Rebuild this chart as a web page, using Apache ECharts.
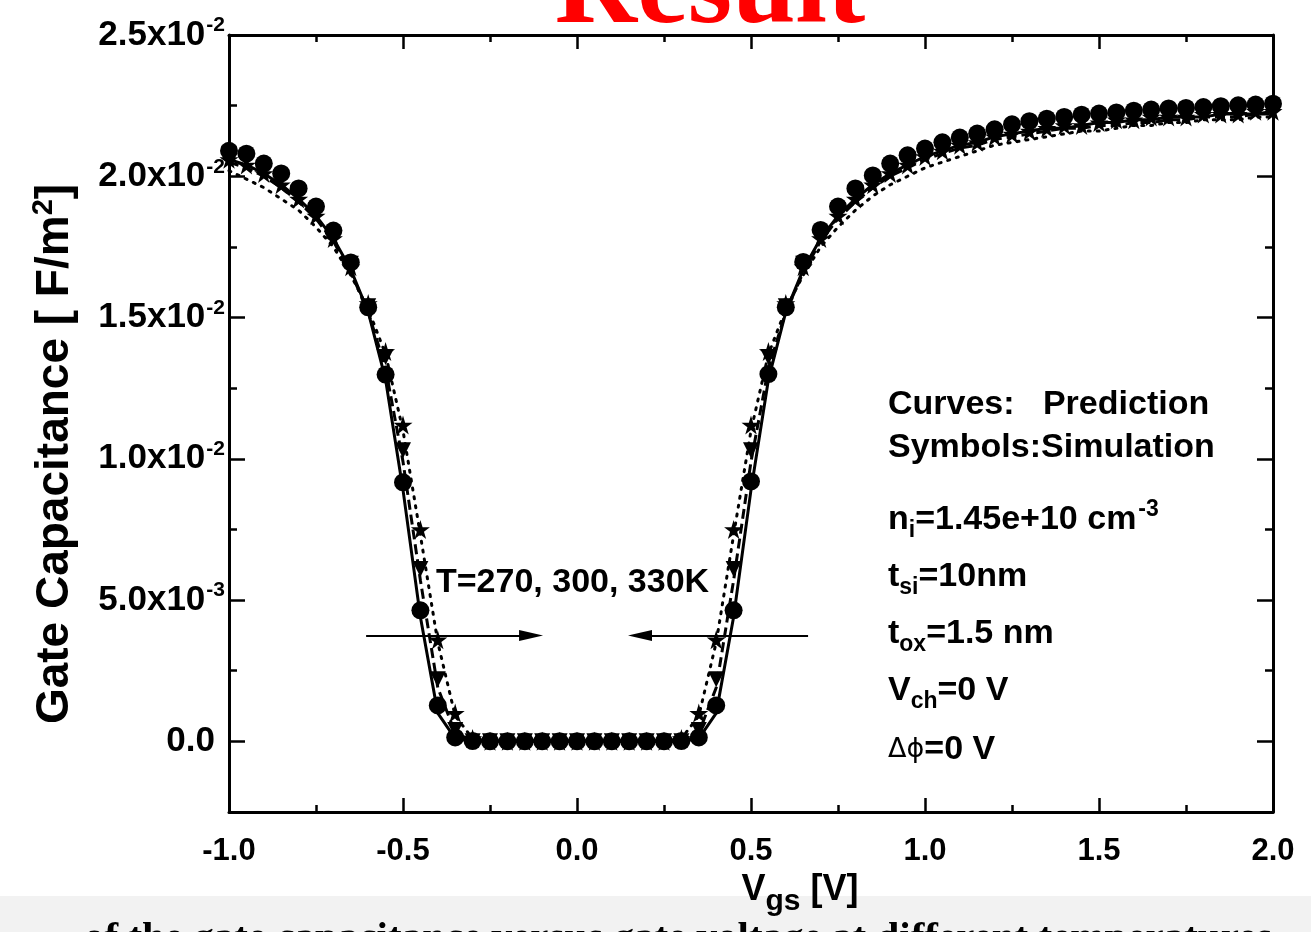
<!DOCTYPE html>
<html>
<head>
<meta charset="utf-8">
<script src="https://cdn.jsdelivr.net/npm/echarts@6/dist/echarts.min.js"></script>
<style>
html,body{margin:0;padding:0;background:#fff;overflow:hidden;}
#chart{width:1311px;height:932px;}
</style>
</head>
<body>
<div id="chart"></div>
<script>
// ---- data ----
const vgs = [-1.0,-0.95,-0.9,-0.85,-0.8,-0.75,-0.7,-0.65,-0.6,-0.55,-0.5,-0.45,-0.4,-0.35,-0.3,-0.25,-0.2,-0.15,-0.1,-0.05,
  0.0,0.05,0.1,0.15,0.2,0.25,0.3,0.35,0.4,0.45,0.5,0.55,0.6,0.65,0.7,0.75,0.8,0.85,0.9,0.95,
  1.0,1.05,1.1,1.15,1.2,1.25,1.3,1.35,1.4,1.45,1.5,1.55,1.6,1.65,1.7,1.75,1.8,1.85,1.9,1.95,2.0];

// Curves: prediction
const pred270 = [0.0206,0.0204,0.0201,0.0197,0.0192,0.0186,0.0178,0.0167,0.0152,0.0128,0.0089,0.0044,0.0010,0.0001,0,0,0,0,0,0,
  0,0,0,0,0,0,0,0.0001,0.0010,0.0044,0.0089,0.0128,0.0152,0.0167,0.0178,0.0186,0.0192,0.0197,0.0201,0.0204,
  0.0207,0.0209,0.0211,0.0212,0.0214,0.0215,0.0216,0.0217,0.0217,0.0218,0.0219,0.0219,0.0220,0.0220,0.0221,0.0221,0.0221,0.0222,0.0222,0.0222,0.0223];
const pred300 = [0.0205,0.0203,0.0200,0.0196,0.0191,0.0185,0.0177,0.0166,0.0152,0.0132,0.0099,0.0057,0.0019,0.0003,0.00002,0,0,0,0,0,
  0,0,0,0,0,0,0.00002,0.0003,0.0019,0.0057,0.0099,0.0132,0.0152,0.0166,0.0177,0.0185,0.0191,0.0196,0.0200,0.0203,
  0.0206,0.0208,0.0210,0.0211,0.0213,0.0214,0.0215,0.0216,0.0217,0.0217,0.0218,0.0218,0.0219,0.0219,0.0220,0.0220,0.0221,0.0221,0.0221,0.0222,0.0222];
const pred330 = [0.0202,0.0199,0.0196,0.0192,0.0188,0.0182,0.0175,0.0165,0.0153,0.0137,0.0110,0.0073,0.0035,0.0009,0.0001,0,0,0,0,0,
  0,0,0,0,0,0,0.0001,0.0009,0.0035,0.0073,0.0110,0.0137,0.0153,0.0165,0.0175,0.0182,0.0188,0.0193,0.0197,0.0200,
  0.0203,0.0205,0.0207,0.0209,0.0211,0.0212,0.0213,0.0214,0.0215,0.0216,0.0216,0.0217,0.0218,0.0218,0.0219,0.0219,0.0220,0.0220,0.0220,0.0221,0.0221];

// Symbols: simulation
const sim270 = [0.0209,0.0208,0.02045,0.0201,0.01957,0.01893,0.01808,0.01695,0.01536,0.01298,0.00917,0.00464,0.00127,0.00014,0.00001,0,0,0,0,0,
  0,0,0,0,0,0,0.00001,0.00014,0.00127,0.00464,0.0092,0.013,0.01536,0.01697,0.0181,0.01893,0.01957,0.02003,0.02045,0.02074,
  0.02098,0.0212,0.02137,0.02151,0.02166,0.02184,0.02195,0.02204,0.0221,0.02218,0.02222,0.02226,0.02232,0.02236,0.0224,0.02242,0.02245,0.02248,0.02251,0.02254,0.02257];
const sim300 = [0.0208,0.0206,0.0203,0.0199,0.0194,0.0188,0.0179,0.0169,0.0154,0.0136,0.0103,0.0061,0.0022,0.0004,0,0,0,0,0,0,
  0,0,0,0,0,0,0,0.0004,0.0022,0.0061,0.0103,0.0136,0.0154,0.0169,0.0179,0.0188,0.0194,0.0199,0.0203,0.0206,
  0.0208,0.0210,0.0212,0.0213,0.0215,0.0216,0.0217,0.0218,0.0219,0.0219,0.0220,0.0221,0.0221,0.0222,0.0222,0.0222,0.0223,0.0223,0.0223,0.0224,0.0224];
const sim330 = [0.0206,0.0204,0.0201,0.0197,0.0192,0.0186,0.0178,0.0168,0.0155,0.0138,0.0112,0.0075,0.0036,0.0010,0.0001,0,0,0,0,0,
  0,0,0,0,0,0,0.0001,0.0010,0.0036,0.0075,0.0112,0.0138,0.0155,0.0168,0.0178,0.0186,0.0192,0.0197,0.0201,0.0204,
  0.0207,0.0209,0.0211,0.0212,0.0214,0.0215,0.0216,0.0217,0.0218,0.0218,0.0219,0.0220,0.0220,0.0221,0.0221,0.0221,0.0222,0.0222,0.0222,0.0223,0.0223];

// axis ticks
const xTickValues = [-1.0,-0.5,0.0,0.5,1.0,1.5,2.0];
const xTickLabels = ['-1.0','-0.5','0.0','0.5','1.0','1.5','2.0'];
const yTickValues = [0,0.005,0.01,0.015,0.02,0.025];
const yTickMant = ['0.0','5.0x10','1.0x10','1.5x10','2.0x10','2.5x10'];
const yTickExp = ['','-3','-2','-2','-2','-2'];
const yMinorValues = [-0.0025,0.0025,0.0075,0.0125,0.0175,0.0225];

// annotation arrows (data coords)
const arrowLeft = [[-0.606,0.00375],[-0.132,0.00375]];
const arrowRight = [[0.664,0.00375],[0.181,0.00375]];

// ---- chart ----
const FONT = 'Liberation Sans, Arial, sans-serif';
const SERIF = 'Liberation Serif, Times New Roman, serif';
const chart = echarts.init(document.getElementById('chart'));
const pairs = arr => vgs.map((x,i)=>[x,arr[i]]);
const starPath = 'path://M50,0 L61,35 L98,35 L68,57 L79,91 L50,70 L21,91 L32,57 L2,35 L39,35 Z';
const arrowHead = 'path://M5,0 L10,22 L0,22 Z';

function yLabel(v){
  const i = yTickValues.findIndex(t=>Math.abs(t-v)<1e-9);
  if(i<0) return '';
  return yTickExp[i] ? '{m|'+yTickMant[i]+'}{s|'+yTickExp[i]+'}' : '{z|'+yTickMant[i]+'}';
}
function xLabel(v){
  const i = xTickValues.findIndex(t=>Math.abs(t-v)<1e-9);
  return i<0 ? '' : xTickLabels[i];
}

const axisLineStyle = {color:'#000', width:3};
const tickStyle = {width:2.5, color:'#000'};
const yBase = {type:'value', min:-0.0025, max:0.025, splitLine:{show:false}};
const xBase = {type:'value', min:-1, max:2, interval:0.5, splitLine:{show:false}};

const option = {
  backgroundColor:'#ffffff',
  animation:false,
  grid:{left:229, right:38, top:35, bottom:120, containLabel:false, outerBoundsMode:'none'},
  xAxis:[
    Object.assign({}, xBase, {
      position:'bottom',
      axisLine:{show:true, onZero:false, lineStyle:axisLineStyle},
      axisTick:{show:true, inside:true, length:14, lineStyle:tickStyle},
      minorTick:{show:true, splitNumber:2, length:7, lineStyle:tickStyle},
      axisLabel:{show:true, margin:24, color:'#000', fontFamily:FONT, fontWeight:'bold', fontSize:31, formatter:xLabel, showMinLabel:true, showMaxLabel:true},
      name:'{m|V}{s|gs}{m| [V]}', nameLocation:'middle', nameGap:39,
      nameTextStyle:{padding:[0,0,0,98], rich:{
        m:{fontFamily:FONT, fontWeight:'bold', fontSize:36, color:'#000', lineHeight:44},
        s:{fontFamily:FONT, fontWeight:'bold', fontSize:30, color:'#000', verticalAlign:'bottom', padding:[24,0,0,0]}
      }}
    }),
    Object.assign({}, xBase, {
      position:'top',
      axisLine:{show:true, onZero:false, lineStyle:axisLineStyle},
      axisTick:{show:true, inside:true, length:14, lineStyle:tickStyle},
      minorTick:{show:true, splitNumber:2, length:7, lineStyle:tickStyle},
      axisLabel:{show:false}
    })
  ],
  yAxis:[
    Object.assign({}, yBase, {
      position:'left',
      axisLine:{show:true, onZero:false, lineStyle:axisLineStyle},
      axisTick:{show:true, inside:true, length:16, customValues:yTickValues, lineStyle:tickStyle},
      axisLabel:{show:true, margin:4, customValues:yTickValues, formatter:yLabel, rich:{
        m:{fontFamily:FONT, fontWeight:'bold', fontSize:35, color:'#000', lineHeight:40},
        z:{fontFamily:FONT, fontWeight:'bold', fontSize:35, color:'#000', lineHeight:40, padding:[0,10,0,0]},
        s:{fontFamily:FONT, fontWeight:'bold', fontSize:21, color:'#000', verticalAlign:'top', lineHeight:40, padding:[0,0,14,1]}
      }}
    }),
    Object.assign({}, yBase, {
      position:'left',
      axisLine:{show:false, onZero:false},
      axisTick:{show:true, inside:true, length:8, customValues:yMinorValues, lineStyle:tickStyle},
      axisLabel:{show:false}
    }),
    Object.assign({}, yBase, {
      position:'right',
      axisLine:{show:true, onZero:false, lineStyle:axisLineStyle},
      axisTick:{show:true, inside:true, length:16, customValues:yTickValues, lineStyle:tickStyle},
      axisLabel:{show:false}
    }),
    Object.assign({}, yBase, {
      position:'right',
      axisLine:{show:false, onZero:false},
      axisTick:{show:true, inside:true, length:8, customValues:yMinorValues, lineStyle:tickStyle},
      axisLabel:{show:false}
    })
  ],
  series:[
    {name:'Prediction 330K', type:'line', data:pairs(pred330), showSymbol:false, lineStyle:{color:'#000', width:3, type:[2,7], cap:'round'}, z:3},
    {name:'Prediction 300K', type:'line', data:pairs(pred300), showSymbol:false, lineStyle:{color:'#000', width:3, type:[10,5]}, z:3},
    {name:'Prediction 270K', type:'line', data:pairs(pred270), showSymbol:false, lineStyle:{color:'#000', width:3, type:'solid'}, z:3,
      markLine:{silent:true, symbol:['none', arrowHead], symbolSize:[11,24], label:{show:false},
        lineStyle:{color:'#000', width:2, type:'solid'},
        data:[
          [{coord:arrowLeft[0]},{coord:arrowLeft[1]}],
          [{coord:arrowRight[0]},{coord:arrowRight[1]}]
        ]}},
    {name:'Simulation 330K', type:'scatter', data:pairs(sim330), symbol:starPath, symbolSize:19, itemStyle:{color:'#000', opacity:1}, z:4},
    {name:'Simulation 300K', type:'scatter', data:pairs(sim300), symbol:'triangle', symbolRotate:180, symbolSize:16, itemStyle:{color:'#000', opacity:1}, z:5},
    {name:'Simulation 270K', type:'scatter', data:pairs(sim270), symbol:'circle', symbolSize:18, itemStyle:{color:'#000', opacity:1}, z:6}
  ],
  graphic:[
    {type:'rect', left:0, top:896, shape:{width:1311, height:36}, style:{fill:'#f2f2f2'}, z:-10, silent:true},
    {type:'text', left:84, top:919, z:-5, style:{text:'of the gate capacitance versus gate voltage at different temperatures', fill:'#000', font:'bold 41px '+SERIF}},
    {type:'text', x:710, y:50, style:{text:'Result', fill:'#ff0000', font:'bold 114px '+SERIF, textAlign:'center', textVerticalAlign:'bottom', textShadowColor:'#000', textShadowBlur:0, textShadowOffsetX:4, textShadowOffsetY:4}},
    {type:'text', x:55, y:454, rotation:Math.PI/2, style:{
      text:'{m|Gate Capacitance [ F/m}{s|2}{m|]}', textAlign:'center', textVerticalAlign:'middle',
      rich:{m:{fontFamily:FONT, fontWeight:'bold', fontSize:46, fill:'#000', lineHeight:52},
            s:{fontFamily:FONT, fontWeight:'bold', fontSize:29, fill:'#000', verticalAlign:'top', lineHeight:52, padding:[0,0,20,0]}}
    }},
    {type:'text', x:436, y:583, style:{text:'T=270, 300, 330K', fill:'#000', font:'bold 34px '+FONT, textVerticalAlign:'middle'}},
    {type:'text', x:888, y:405, style:{text:'Curves:   Prediction', fill:'#000', font:'bold 34px '+FONT, textVerticalAlign:'middle'}},
    {type:'text', x:888, y:448, style:{text:'Symbols:Simulation', fill:'#000', font:'bold 34px '+FONT, textVerticalAlign:'middle'}},
    {type:'text', x:888, y:520, style:{text:'{m|n}{b|i}{m|=1.45e+10 cm}{t|-3}', textVerticalAlign:'middle', rich:{
      m:{fontFamily:FONT, fontWeight:'bold', fontSize:34, fill:'#000', lineHeight:44},
      b:{fontFamily:FONT, fontWeight:'bold', fontSize:23, fill:'#000', verticalAlign:'bottom', lineHeight:44, padding:[14,0,0,0]},
      t:{fontFamily:FONT, fontWeight:'bold', fontSize:23, fill:'#000', verticalAlign:'top', lineHeight:44, padding:[0,0,14,2]}}}},
    {type:'text', x:888, y:577, style:{text:'{m|t}{b|si}{m|=10nm}', textVerticalAlign:'middle', rich:{
      m:{fontFamily:FONT, fontWeight:'bold', fontSize:34, fill:'#000', lineHeight:44},
      b:{fontFamily:FONT, fontWeight:'bold', fontSize:23, fill:'#000', verticalAlign:'bottom', lineHeight:44, padding:[14,0,0,0]}}}},
    {type:'text', x:888, y:634, style:{text:'{m|t}{b|ox}{m|=1.5 nm}', textVerticalAlign:'middle', rich:{
      m:{fontFamily:FONT, fontWeight:'bold', fontSize:34, fill:'#000', lineHeight:44},
      b:{fontFamily:FONT, fontWeight:'bold', fontSize:23, fill:'#000', verticalAlign:'bottom', lineHeight:44, padding:[14,0,0,0]}}}},
    {type:'text', x:888, y:691, style:{text:'{m|V}{b|ch}{m|=0 V}', textVerticalAlign:'middle', rich:{
      m:{fontFamily:FONT, fontWeight:'bold', fontSize:34, fill:'#000', lineHeight:44},
      b:{fontFamily:FONT, fontWeight:'bold', fontSize:23, fill:'#000', verticalAlign:'bottom', lineHeight:44, padding:[14,0,0,0]}}}},
    {type:'text', x:888, y:750, style:{text:'{g|Δϕ}{m|=0 V}', textVerticalAlign:'middle', rich:{
      m:{fontFamily:FONT, fontWeight:'bold', fontSize:34, fill:'#000', lineHeight:44},
      g:{fontFamily:'DejaVu Sans, sans-serif', fontWeight:'normal', fontSize:27, fill:'#000', lineHeight:44}}}}
  ]
};
chart.setOption(option);
</script>
</body>
</html>
